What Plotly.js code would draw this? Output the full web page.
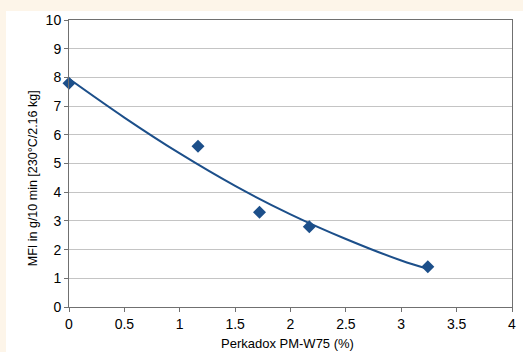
<!DOCTYPE html>
<html>
<head>
<meta charset="utf-8">
<script src="https://cdn.plot.ly/plotly-3.0.1.min.js"></script>
<style>
  html, body { margin: 0; padding: 0; background: #fdf5e9; width: 523px; height: 352px; overflow: hidden; }
  #chart { position: absolute; left: 6px; top: 11px; width: 517px; height: 341px; background: #ffffff; }
</style>
</head>
<body>
<div id="chart"></div>
<script>
// Measured data points
const perkadox = [0, 1.165, 1.72, 2.17, 3.24];
const mfi = [7.8, 5.6, 3.3, 2.8, 1.4];

// Trendline values
const trendX = [0, 0.5, 1, 1.5, 2, 2.5, 3, 3.24];
const trendY = [7.95, 6.6, 5.35, 4.22, 3.23, 2.37, 1.62, 1.33];

const xTicks = [0, 0.5, 1, 1.5, 2, 2.5, 3, 3.5, 4];
const xTickText = ['0', '0.5', '1', '1.5', '2', '2.5', '3', '3.5', '4'];
const yTicks = [0, 1, 2, 3, 4, 5, 6, 7, 8, 9, 10];

const xTitle = 'Perkadox PM-W75 (%)';
const yTitle = 'MFI in g/10 min [230°C/2.16 kg]';

const blue = '#1c4f8a';
const tickFont = {family: 'Liberation Sans, Arial, sans-serif', size: 14, color: '#000'};
const titleFont = {family: 'Liberation Sans, Arial, sans-serif', size: 13, color: '#000'};

const traces = [
  {
    x: trendX, y: trendY, type: 'scatter', mode: 'lines',
    line: {color: blue, width: 2, shape: 'spline'},
    hoverinfo: 'skip', showlegend: false
  },
  {
    x: perkadox, y: mfi, type: 'scatter', mode: 'markers',
    marker: {symbol: 'diamond', size: 10, color: blue},
    cliponaxis: false, showlegend: false
  }
];

const layout = {
  width: 517, height: 341,
  margin: {l: 63, r: 11, t: 9, b: 45},
  paper_bgcolor: '#ffffff',
  plot_bgcolor: '#ffffff',
  font: tickFont,
  showlegend: false,
  xaxis: {
    range: [0, 4], tickvals: xTicks, ticktext: xTickText,
    showgrid: false, zeroline: false,
    showline: true, linecolor: '#707070', linewidth: 1, mirror: true,
    ticks: 'outside', ticklen: 4, tickcolor: '#707070',
    tickfont: tickFont
  },
  yaxis: {
    range: [0, 10], tickvals: yTicks,
    showgrid: true, gridcolor: '#c4c4c4', gridwidth: 1, zeroline: false,
    showline: true, linecolor: '#707070', linewidth: 1, mirror: true,
    ticks: 'outside', ticklen: 4, tickcolor: '#707070',
    tickfont: tickFont
  },
  annotations: [
    {
      text: xTitle, xref: 'paper', yref: 'paper', x: 0.494, y: -0.128,
      xanchor: 'center', yanchor: 'middle', showarrow: false, font: titleFont
    },
    {
      text: yTitle, xref: 'paper', yref: 'paper', x: -0.081, y: 0.449,
      xanchor: 'center', yanchor: 'middle', textangle: -90, showarrow: false,
      font: {family: 'Liberation Sans, Arial, sans-serif', size: 12.5, color: '#000'}
    }
  ]
};

Plotly.newPlot('chart', traces, layout, {displayModeBar: false, staticPlot: true});
</script>
</body>
</html>
